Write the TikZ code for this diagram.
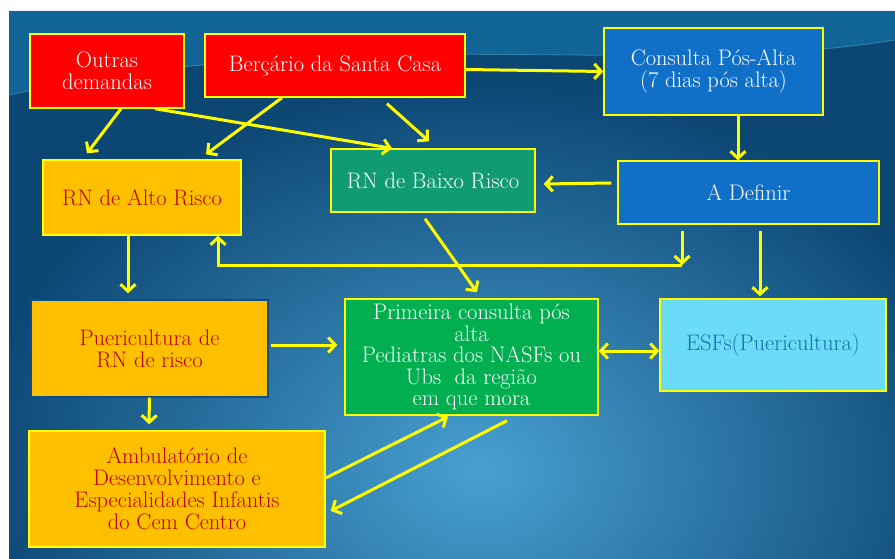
\documentclass[tikz,border=0pt]{standalone}
\usepackage{fontspec}
\usepackage{tikz}
\usetikzlibrary{arrows.meta,calc,positioning}
\definecolor{my_yellow}{RGB}{255, 255, 0}
\definecolor{my_red}{RGB}{255, 0, 0}
\definecolor{my_blue}{RGB}{16, 112, 200}
\definecolor{my_gold}{RGB}{255, 192, 0}
\definecolor{my_darkred}{RGB}{192, 0, 0}
\definecolor{my_teal}{RGB}{16, 155, 115}
\definecolor{my_green}{RGB}{0, 176, 80}
\definecolor{my_cyan}{RGB}{107, 220, 248}
\definecolor{my_esftext}{RGB}{24, 110, 170}
\definecolor{bg_dark}{RGB}{12, 70, 115}
\definecolor{bg_light}{RGB}{72, 160, 210}
\definecolor{bg_band}{RGB}{20, 125, 180}
\tikzset{
  flowbox/.style = {rectangle, align=center, inner sep=2pt, draw=my_yellow, line width=1.4pt,
  text centered, font=\fontsize{22.5}{22}\selectfont},
  box_red/.style = {flowbox, fill=my_red, text=white},
  box_blue/.style = {flowbox, fill=my_blue, text=white},
  box_gold/.style = {flowbox, fill=my_gold, text=my_darkred},
  box_teal/.style = {flowbox, fill=my_teal, text=white},
  box_green/.style = {flowbox, fill=my_green, text=white},
  box_cyan/.style = {flowbox, fill=my_cyan, text=my_esftext}
}

\begin{document}
\begin{tikzpicture}[x=1pt, y=-1pt,
        flow/.style={draw=my_yellow, line width=3pt, ->, >={Straight Barb[length=7pt,width=15pt]}},
        dims/.style 2 args={minimum width=#1pt, minimum height=#2pt}]
    \useasboundingbox (0,0) rectangle (895,559);
    \fill[white] (0,0) rectangle (895,559);
    % background
    \begin{scope}
        \clip (9,11) rectangle (895,559);
        \fill[bg_dark] (9,11) rectangle (895,559);
        \shade[inner color=bg_light, outer color=bg_dark] (-30,80) rectangle (990,860);
        \fill[bg_band, opacity=0.55] (9,11) -- (895,11) -- (895,40)
            .. controls (650,80) and (350,20) .. (9,95) -- cycle;
        \draw[cyan!50!white, opacity=0.35, line width=0.8pt] (9,95) .. controls (350,20) and (650,80) .. (895,40);
    \end{scope}
    % boxes
    \node [box_red, dims={154}{74}] (outras) at (107,71) {Outras\\demandas};
    \node [box_red, dims={260}{63}] (bercario) at (335,65.5) {Berçário da Santa Casa};
    \node [box_blue, dims={219}{87}] (consulta) at (713.5,71.5) {Consulta Pós-Alta\\(7 dias pós alta)};
    \node [box_gold, dims={198}{75}] (alto) at (142,197.5) {RN de Alto Risco};
    \node [box_teal, dims={204}{63}] (baixo) at (433,180.5) {RN de Baixo Risco};
    \node [box_blue, dims={261}{63}] (definir) at (748.5,192.5) {A Definir};
    \node [box_gold, draw=my_blue!70!black, dims={237}{97}] (pueri) at (149.5,348.5) {Puericultura de\\RN de risco};
    \node [box_green, dims={253}{116}, font=\fontsize{22.5}{21.5}\selectfont] (primeira) at (471.5,357)
        {Primeira consulta pós\\alta\\Pediatras dos NASFs ou\\Ubs~ da região\\em que mora};
    \node [box_cyan, dims={226}{92}] (esf) at (773,345) {ESFs(Puericultura)};
    \node [box_gold, dims={296}{116}] (ambul) at (177,489)
        {Ambulatório de\\Desenvolvimento e\\Especialidades Infantis\\do Cem Centro};
    \coordinate (junct) at (682,265);
    % connectors
    \draw[flow] ([yshift=-4pt]bercario.east) -- (consulta.west);
    \draw[flow] ([xshift=24.5pt]consulta.south) -- ([xshift=-10.5pt]definir.north);
    \draw[flow] ([xshift=-6pt,yshift=9.5pt]definir.west) -- ([xshift=8pt,yshift=-3.5pt]baixo.east);
    \draw[flow] ([xshift=14pt]outras.south) -- ([xshift=-55pt,yshift=6pt]alto.north);
    \draw[flow] ([xshift=-53pt]bercario.south) -- ([xshift=64pt,yshift=5pt]alto.north);
    \draw[flow] ([xshift=48pt]outras.south) -- ([xshift=-41pt]baixo.north);
    \draw[flow] ([xshift=52pt,yshift=-6pt]bercario.south) -- ([xshift=-4pt,yshift=7pt]baixo.north);
    \draw[flow] ([xshift=-66.5pt,yshift=-6pt]definir.south) -- (junct);
    \draw[flow] (junct) -| ([xshift=76pt]alto.south);
    \draw[flow] ([xshift=11.5pt,yshift=-6pt]definir.south) -- ([xshift=-13pt,yshift=2pt]esf.north);
    \draw[flow] ([xshift=-8pt,yshift=-6pt]baixo.south) -- ([xshift=5.5pt,yshift=6pt]primeira.north);
    \draw[flow] ([xshift=-14pt]alto.south) -- ([xshift=-21.5pt,yshift=6pt]pueri.north);
    \draw[flow] ([xshift=2pt,yshift=3.5pt]pueri.east) -- ([xshift=-7pt,yshift=12pt]primeira.west);
    \draw[flow] (pueri.south) -- ([xshift=-28pt,yshift=6pt]ambul.north);
    \draw[flow, <->] ([yshift=6pt]primeira.east) -- ([yshift=-6pt]esf.west);
    \draw[flow] ([yshift=11pt]ambul.east) -- ([xshift=-23.5pt,yshift=-1pt]primeira.south);
    \draw[flow] ([xshift=35.5pt,yshift=-5pt]primeira.south) -- ([xshift=5pt,yshift=-22pt]ambul.east);
\end{tikzpicture}
\end{document}
